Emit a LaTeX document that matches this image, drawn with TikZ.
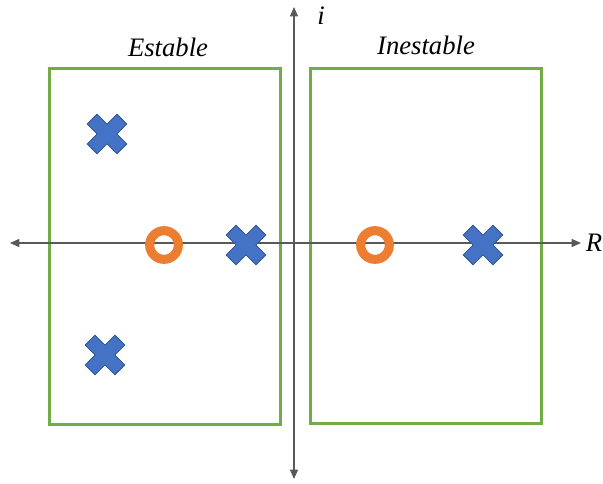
\documentclass[tikz,border=0pt]{standalone}
\usepackage{fontspec}
\setmainfont{Liberation Serif}
\usepackage{xcolor}
\usetikzlibrary{arrows.meta, positioning}

\definecolor{boxgreen}{HTML}{70AD47}
\definecolor{poleblue}{HTML}{4472C4}
\definecolor{poleedge}{HTML}{2F528F}
\definecolor{zeroorange}{HTML}{ED7D31}
\definecolor{axisgray}{HTML}{595959}

\begin{document}
\begin{tikzpicture}[
  x=0.75pt, y=-0.75pt,
  axis/.style={{Triangle[length=7pt, width=6pt]}-{Triangle[length=7pt, width=6pt]},
    draw=axisgray, line width=1pt},
  region/.style={rectangle, draw=boxgreen, line width=2.3pt, anchor=north west},
  lbl/.style={font=\fontsize{20}{24}\selectfont\itshape},
  zero/.style={circle, draw=zeroorange, line width=6.8pt,
    minimum size=21.5pt, inner sep=0pt},
  pole/.pic={
    \filldraw[fill=poleblue, draw=poleedge, line width=0.6pt, rotate=45]
      (7,7) -- (21,7) -- (21,-7) -- (7,-7) -- (7,-21)
      -- (-7,-21) -- (-7,-7) -- (-21,-7) -- (-21,7)
      -- (-7,7) -- (-7,21) -- (7,21) -- cycle;
  },
]
\useasboundingbox (0,0) rectangle (603,483);

% stable and unstable half planes
\node[region, minimum width=173pt, minimum height=267pt] (stab) at (48,67) {};
\node[region, minimum width=173pt, minimum height=266pt] (unstab) at (309,67) {};
\node[lbl] (stablbl) at (168,47) {Estable};
\node[lbl] (unstablbl) at (426,45) {Inestable};

% axes
\coordinate (xl) at (10,243);
\coordinate (xr) at (581,243);
\coordinate (yt) at (294,7);
\coordinate (yb) at (294,479);
\draw[axis] (xl) -- (xr);
\draw[axis] (yb) -- (yt);
\node[lbl] (re) at (594,243) {R};
\node[lbl] (im) at (321,16) {i};

% zeros
\node[zero] (z1) at (164,245) {};
\node[zero] (z2) at (375,245) {};

% poles
\pic at (107,134) {pole};
\pic at (246,245) {pole};
\pic at (105,355) {pole};
\pic at (483,245) {pole};

\end{tikzpicture}
\end{document}
